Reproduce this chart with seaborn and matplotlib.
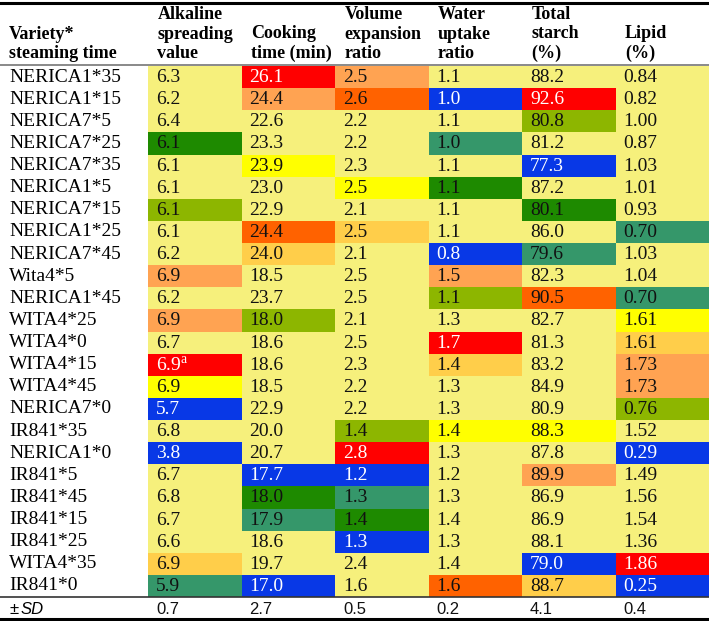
import numpy as np
import pandas as pd
import seaborn as sns
import matplotlib.pyplot as plt
from matplotlib.colors import ListedColormap
from matplotlib.lines import Line2D

# rows of the table
varieties = ['NERICA1*35', 'NERICA1*15', 'NERICA7*5', 'NERICA7*25', 'NERICA7*35',
             'NERICA1*5', 'NERICA7*15', 'NERICA1*25', 'NERICA7*45', 'Wita4*5',
             'NERICA1*45', 'WITA4*25', 'WITA4*0', 'WITA4*15', 'WITA4*45',
             'NERICA7*0', 'IR841*35', 'NERICA1*0', 'IR841*5', 'IR841*45',
             'IR841*15', 'IR841*25', 'WITA4*35', 'IR841*0']

headers = ['Alkaline\nspreading\nvalue', 'Cooking\ntime (min)', 'Volume\nexpansion\nratio',
           'Water\nuptake\nratio', 'Total\nstarch\n(%)', 'Lipid\n(%)']

alkaline = [6.3, 6.2, 6.4, 6.1, 6.1, 6.1, 6.1, 6.1, 6.2, 6.9, 6.2, 6.9,
            6.7, 6.9, 6.9, 5.7, 6.8, 3.8, 6.7, 6.8, 6.7, 6.6, 6.9, 5.9]
cooking = [26.1, 24.4, 22.6, 23.3, 23.9, 23.0, 22.9, 24.4, 24.0, 18.5, 23.7, 18.0,
           18.6, 18.6, 18.5, 22.9, 20.0, 20.7, 17.7, 18.0, 17.9, 18.6, 19.7, 17.0]
volume = [2.5, 2.6, 2.2, 2.2, 2.3, 2.5, 2.1, 2.5, 2.1, 2.5, 2.5, 2.1,
          2.5, 2.3, 2.2, 2.2, 1.4, 2.8, 1.2, 1.3, 1.4, 1.3, 2.4, 1.6]
water = [1.1, 1.0, 1.1, 1.0, 1.1, 1.1, 1.1, 1.1, 0.8, 1.5, 1.1, 1.3,
         1.7, 1.4, 1.3, 1.3, 1.4, 1.3, 1.2, 1.3, 1.4, 1.3, 1.4, 1.6]
starch = [88.2, 92.6, 80.8, 81.2, 77.3, 87.2, 80.1, 86.0, 79.6, 82.3, 90.5, 82.7,
          81.3, 83.2, 84.9, 80.9, 88.3, 87.8, 89.9, 86.9, 86.9, 88.1, 79.0, 88.7]
lipid = [0.84, 0.82, 1.00, 0.87, 1.03, 1.01, 0.93, 0.70, 1.03, 1.04, 0.70, 1.61,
         1.61, 1.73, 1.73, 0.76, 1.52, 0.29, 1.49, 1.56, 1.54, 1.36, 1.86, 0.25]
decimals = [1, 1, 1, 1, 1, 2]
sd = [0.7, 2.7, 0.5, 0.2, 4.1, 0.4]

# highlight classes: P pale, R red, OR orange-red, O orange, G gold, Y yellow,
# YG yellow-green, DG dark green, T teal, B blue
alkaline_c = ['P', 'P', 'P', 'DG', 'P', 'P', 'YG', 'P', 'P', 'O', 'P', 'O',
              'P', 'R', 'Y', 'B', 'P', 'B', 'P', 'P', 'P', 'P', 'G', 'T']
cooking_c = ['R', 'O', 'P', 'P', 'Y', 'P', 'P', 'OR', 'G', 'P', 'P', 'YG',
             'P', 'P', 'P', 'P', 'P', 'P', 'B', 'DG', 'T', 'P', 'P', 'B']
volume_c = ['O', 'OR', 'P', 'P', 'P', 'Y', 'P', 'G', 'P', 'P', 'P', 'P',
            'P', 'P', 'P', 'P', 'YG', 'R', 'B', 'T', 'DG', 'B', 'P', 'P']
water_c = ['P', 'B', 'P', 'T', 'P', 'DG', 'P', 'P', 'B', 'O', 'YG', 'P',
           'R', 'G', 'P', 'P', 'Y', 'P', 'P', 'P', 'P', 'P', 'P', 'OR']
starch_c = ['P', 'R', 'YG', 'P', 'B', 'P', 'DG', 'P', 'T', 'P', 'OR', 'P',
            'P', 'P', 'P', 'P', 'Y', 'P', 'O', 'P', 'P', 'P', 'B', 'G']
lipid_c = ['P', 'P', 'P', 'P', 'P', 'P', 'P', 'T', 'P', 'P', 'T', 'Y',
           'G', 'O', 'O', 'YG', 'P', 'B', 'P', 'P', 'P', 'P', 'R', 'B']

classes = ['P', 'R', 'OR', 'O', 'G', 'Y', 'YG', 'DG', 'T', 'B']
class_colors = ['#F6F07C', '#FF0000', '#FF6200', '#FFA352', '#FFCE4A', '#FFFF00',
                '#8DB600', '#1E8A00', '#35976A', '#0838E6']

values = pd.DataFrame({h: v for h, v in zip(headers, [alkaline, cooking, volume, water, starch, lipid])},
                      index=varieties)
codes = pd.DataFrame({h: [classes.index(c) for c in v]
                      for h, v in zip(headers, [alkaline_c, cooking_c, volume_c, water_c, starch_c, lipid_c])},
                     index=varieties)

W, H = 709, 621
fig = plt.figure(figsize=(W / 100, H / 100), dpi=100)
ax = fig.add_axes([148 / W, (H - 597) / H, (W - 148) / W, (597 - 66) / H])

sns.heatmap(codes, cmap=ListedColormap(class_colors), vmin=-0.5, vmax=len(classes) - 0.5,
            cbar=False, annot=False, xticklabels=False, yticklabels=varieties, ax=ax)

serif = 'Liberation Serif'
ax.set_yticklabels(varieties, rotation=0, ha='left', fontsize=14, family=serif)
ax.tick_params(axis='y', length=0, pad=100)
ax.tick_params(axis='x', length=0)
ax.set_ylabel('')

for j, col in enumerate(headers):
    for i, v in enumerate(values[col]):
        c = classes[codes.iloc[i, j]]
        txt = f'{v:.{decimals[j]}f}'
        if varieties[i] == 'WITA4*15' and j == 0:
            txt += '$^{\\mathregular{a}}$'
        ax.text(j + 0.085, i + 0.52, txt, ha='left', va='center', fontsize=14, family=serif,
                color='white' if c in ('R', 'B') else '#111111')
    # header
    ax.annotate(col, xy=(j + 0.1, (H - 58) / H), xycoords=('data', 'figure fraction'),
                ha='left', va='baseline', fontsize=13, family=serif, fontweight='bold',
                linespacing=1.18)
    # SD row
    ax.text(j + 0.085, 24.55, f'{sd[j]}', ha='left', va='center', fontsize=12,
            family='Liberation Sans', color='#111111')

fig.text(9 / W, (H - 58) / H, 'Variety*\nsteaming time', ha='left', va='baseline',
         fontsize=13, family=serif, fontweight='bold', linespacing=1.18)
fig.text(9 / W, (H - 609) / H, '\u00b1', ha='left', va='center', fontsize=12, family='Liberation Sans')
fig.text(21 / W, (H - 609) / H, 'SD', ha='left', va='center', fontsize=12,
         family='Liberation Sans', style='italic')

# table rules
for y, lw, col in [(2.5, 2.2, 'black'), (65, 1.3, '#808080'), (597, 1.2, '#333333'), (619, 2.2, 'black')]:
    fig.add_artist(Line2D([0, 1], [(H - y) / H] * 2, transform=fig.transFigure, color=col, lw=lw))

fig.savefig('out.png', dpi=100)
